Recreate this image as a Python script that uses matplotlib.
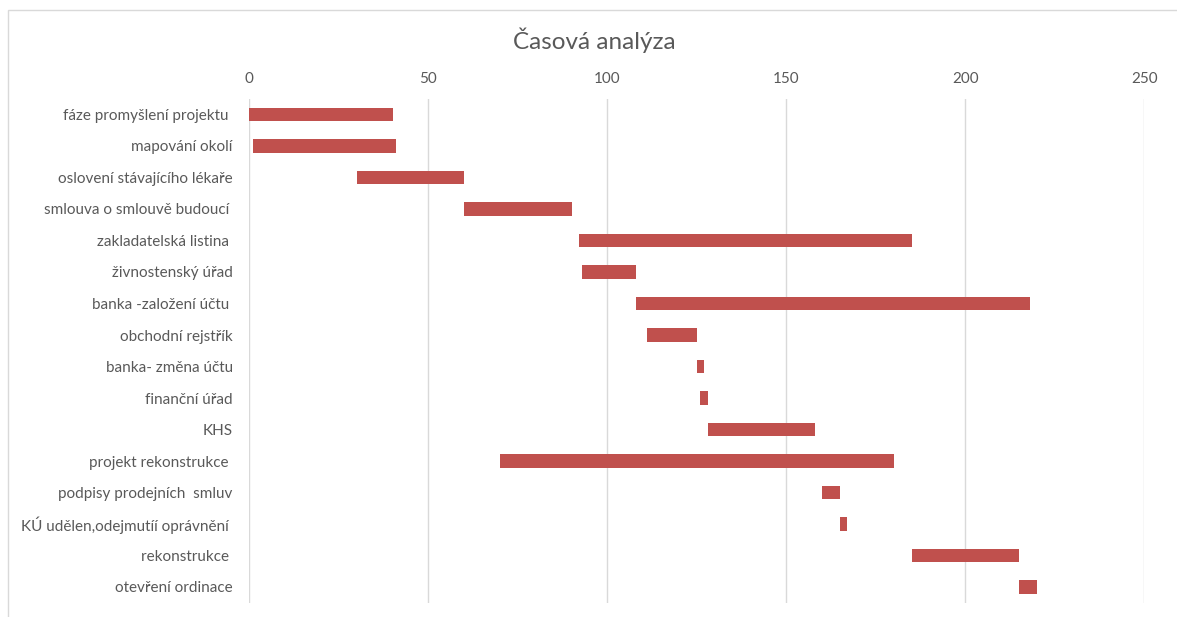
import matplotlib.pyplot as plt
from matplotlib.patches import Rectangle

# Gantt data: start day and duration
tasks = [
    "fáze promyšlení projektu ",
    "mapování okolí",
    "oslovení stávajícího lékaře",
    "smlouva o smlouvě budoucí ",
    "zakladatelská listina ",
    "živnostenský úřad",
    "banka -založení účtu ",
    "obchodní rejstřík",
    "banka- změna účtu",
    "finanční úřad",
    "KHS",
    "projekt rekonstrukce ",
    "podpisy prodejních  smluv",
    "KÚ udělen,odejmutíí oprávnění ",
    "rekonstrukce ",
    "otevření ordinace",
]
starts = [0, 1, 30, 60, 92, 93, 108, 111, 125, 126, 128, 70, 160, 165, 185, 215]
durations = [40, 40, 30, 30, 93, 15, 110, 14, 2, 2, 30, 110, 5, 2, 30, 5]
x_ticks = [0, 50, 100, 150, 200, 250]

plt.rcParams['font.family'] = ['Lato', 'DejaVu Sans']

fig = plt.figure(figsize=(11.77, 6.17), dpi=100)

# light chart border
fig.patches.append(Rectangle((8 / 1177, -0.1), 1.2, 1 - 10 / 617 + 0.1,
                             transform=fig.transFigure, fill=False,
                             edgecolor='#D9D9D9', linewidth=1))

ax = fig.add_axes([249.4 / 1177, 1 - 602.75 / 617, 895 / 1177, 504 / 617])

ypos = list(range(len(tasks)))
ax.barh(ypos, durations, left=starts, height=0.42, color='#C0504D', zorder=3)

ax.set_xlim(0, 250)
ax.set_ylim(len(tasks) - 0.5, -0.5)
ax.set_xticks(x_ticks)
ax.set_yticks(ypos)
ax.set_yticklabels(tasks)

ax.xaxis.tick_top()
ax.tick_params(axis='x', length=0, pad=9, labelsize=11, labelcolor='#595959')
ax.tick_params(axis='y', length=0, pad=12, labelsize=11, labelcolor='#595959')

ax.grid(axis='x', color='#D9D9D9', linewidth=1, zorder=0)
for s in ax.spines.values():
    s.set_visible(False)

fig.text(594 / 1177, 1 - 40 / 617, "Časová analýza", ha='center', va='center',
         fontsize=17.5, color='#595959')

fig.savefig("out.png", dpi=100)
